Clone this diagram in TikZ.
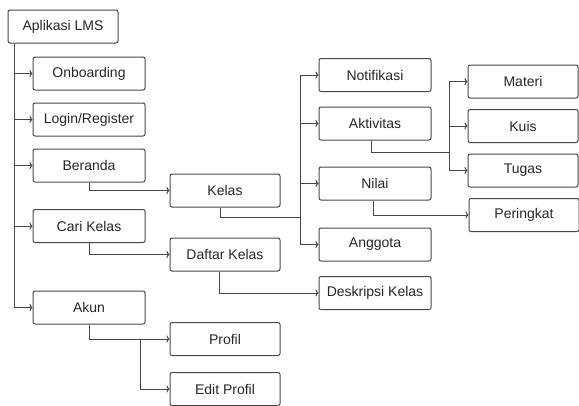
\documentclass[tikz,border=0pt]{standalone}
\usepackage{fontspec}
\setmainfont{Liberation Sans}
\usetikzlibrary{arrows.meta}
\definecolor{linegray}{HTML}{474747}

\tikzset{menu/.style={draw=linegray,rounded corners=2pt,line width=1pt,minimum width=110pt,minimum height=33pt,inner sep=0pt,font=\fontsize{14}{16}\selectfont,text=black!85}}

\begin{document}
\begin{tikzpicture}[x=1pt,y=-1pt]
\useasboundingbox (0,0) rectangle (579,405);

  \node[menu] (lms) at (63,26.5) {Aplikasi LMS};
  \node[menu,minimum width=112pt] (onb) at (89,73.5) {Onboarding};
  \node[menu,minimum width=112pt] (login) at (89,119.5) {Login/Register};
  \node[menu,minimum width=112pt] (beranda) at (89,165.5) {Beranda};
  \node[menu,minimum width=112pt] (cari) at (89,226) {Cari Kelas};
  \node[menu,minimum width=112pt] (akun) at (89,307.5) {Akun};

  \node[menu] (kelas) at (225,190.5) {Kelas};
  \node[menu] (daftar) at (225,254.5) {Daftar Kelas};
  \node[menu] (profil) at (225,339) {Profil};
  \node[menu] (editp) at (225,389) {Edit Profil};

  \node[menu,minimum width=112pt] (notif) at (375,75) {Notifikasi};
  \node[menu,minimum width=112pt] (aktiv) at (375,123.5) {Aktivitas};
  \node[menu,minimum width=112pt] (nilai) at (375,183.5) {Nilai};
  \node[menu,minimum width=112pt] (anggota) at (375,244.5) {Anggota};
  \node[menu,minimum width=112pt] (deskripsi) at (375,293) {Deskripsi Kelas};

  \node[menu] (materi) at (523,81.5) {Materi};
  \node[menu] (kuis) at (523,126) {Kuis};
  \node[menu] (tugas) at (523,170.5) {Tugas};
  \node[menu] (peringkat) at (524,215) {Peringkat};

  \begin{scope}[draw=linegray,line width=1pt,-{To[length=3pt,width=7pt]}]
  % main trunk
  \foreach \n in {onb,login,beranda,cari,akun}
    \draw ([xshift=7pt]lms.south west) |- (\n.west);

  \draw (beranda.south) |- (kelas.west);
  \draw (cari.south) |- (daftar.west);
  \draw[-] (akun.south) |- ([xshift=-29pt]profil.west);
  \draw ([xshift=-29pt]profil.west) -- (profil.west);
  \draw ([xshift=-29pt]profil.west) |- (editp.west);

  % kelas
  \coordinate (kelasdrop) at ([xshift=-5pt,yshift=-10pt]kelas.south);
  \coordinate (kelastrunk) at ([xshift=-18pt]notif.west);
  \draw[-] ([xshift=-5pt]kelas.south) |- (kelastrunk |- kelasdrop);
  \foreach \n in {notif,aktiv,nilai,anggota}
    \draw (kelastrunk |- kelasdrop) |- (\n.west);
  \draw ([xshift=-6pt]daftar.south) |- (deskripsi.west);

  % aktivitas
  \coordinate (aktivdrop) at ([xshift=-4pt,yshift=-12pt]aktiv.south);
  \coordinate (aktivtrunk) at ([xshift=-18pt]materi.west);
  \draw[-] ([xshift=-4pt]aktiv.south) |- (aktivtrunk |- aktivdrop);
  \foreach \n in {materi,kuis,tugas}
    \draw (aktivtrunk |- aktivdrop) |- (\n.west);
  \draw ([xshift=-2pt]nilai.south) |- (peringkat.west);
  \end{scope}

\end{tikzpicture}
\end{document}
